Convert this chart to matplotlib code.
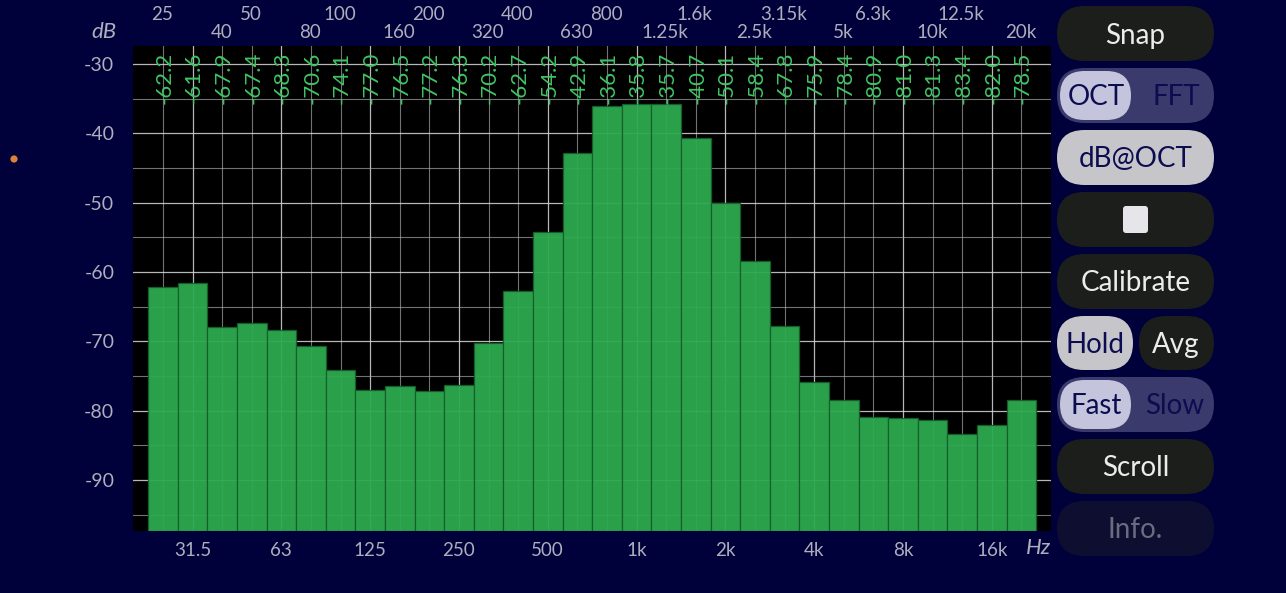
import matplotlib
matplotlib.use("Agg")
import matplotlib.pyplot as plt
from matplotlib.patches import FancyBboxPatch, Circle
from matplotlib.transforms import blended_transform_factory

freq_labels = ["25","31.5","40","50","63","80","100","125","160","200","250","320","400","500","630",
               "800","1k","1.25k","1.6k","2k","2.5k","3.15k","4k","5k","6.3k","8k","10k","12.5k","16k","20k"]
levels = [-62.2,-61.6,-67.9,-67.4,-68.3,-70.6,-74.1,-77.0,-76.5,-77.2,-76.3,-70.2,-62.7,-54.2,-42.9,
          -36.1,-35.8,-35.7,-40.7,-50.1,-58.4,-67.8,-75.9,-78.4,-80.9,-81.0,-81.3,-83.4,-82.0,-78.5]
major_db = [-30,-40,-50,-60,-70,-80,-90]
minor_db = [-35,-45,-55,-65,-75,-85,-95]

plt.rcParams['font.family'] = ['Lato', 'DejaVu Sans']
plt.rcParams['axes.unicode_minus'] = False

BG = "#00003a"
LABEL = "#aeaebd"
W, H = 1286, 593
fig = plt.figure(figsize=(W/100, H/100), dpi=100, facecolor=BG)

L, R, T, B = 133, 1051, 46, 531
ax = fig.add_axes([L/W, 1-B/H, (R-L)/W, (B-T)/H], facecolor="black")
ax.set_xlim(-1.01, 30.0)
ax.set_ylim(-97.35, -27.4)
for s in ax.spines.values():
    s.set_visible(False)

idx = list(range(len(freq_labels)))
bottom_idx = [i for i in idx if i % 3 == 1]
ax.set_xticks(bottom_idx)
ax.set_xticklabels([freq_labels[i] for i in bottom_idx])
ax.set_xticks([i for i in idx if i % 3 != 1], minor=True)
ax.set_yticks(major_db)
ax.set_yticks(minor_db, minor=True)
ax.tick_params(which='both', length=0)
ax.tick_params(axis='x', which='major', colors=LABEL, labelsize=13.5, pad=8)
ax.tick_params(axis='y', which='major', colors=LABEL, labelsize=14, pad=13.5)
ax.set_axisbelow(True)
ax.grid(True, which='major', color="#d8d8d8", lw=0.9, alpha=0.85)
ax.grid(True, which='minor', color="#b0b0b0", lw=0.8, alpha=0.65)

bottom = ax.get_ylim()[0]
ax.bar(idx, [v - bottom for v in levels], bottom=bottom, width=1.0, color="#2eaa50", alpha=0.95,
       edgecolor="#14602a", linewidth=0.9, zorder=2)

trans = blended_transform_factory(ax.transData, fig.transFigure)
for i, (lab, v) in enumerate(zip(freq_labels, levels)):
    ax.text(i + 0.05, 1-104/H, f"{v:.1f}", transform=trans, rotation=90, ha='center', va='bottom',
            color="#3fc463", fontsize=16, zorder=4, clip_on=False)
    ypix = 15 if i % 3 == 0 else 32 if i % 3 == 2 else None
    if ypix is not None:
        ax.text(i - 0.03, 1-ypix/H, lab, transform=trans, ha='center', va='center', color=LABEL,
                fontsize=13.5, clip_on=False)

# overlay in pixel coordinates for interface elements
ov = fig.add_axes([0, 0, 1, 1], facecolor='none')
ov.set_xlim(0, W); ov.set_ylim(H, 0); ov.axis('off')
ov.text(117, 32, "dB", style='italic', color=LABEL, fontsize=16, ha='right', va='center')
ov.text(1051, 548, "Hz", style='italic', color=LABEL, fontsize=16, ha='right', va='center')
ov.add_patch(Circle((14, 159), 3.6, color="#d9823b", lw=0))

def pill(x0, y0, x1, y1, color):
    h = y1 - y0
    r = h / 2
    ov.add_patch(FancyBboxPatch((x0 + r, y0 + r), x1 - x0 - 2*r, 0,
                                boxstyle=f"round,pad={r},rounding_size={r}",
                                fc=color, ec='none', lw=0))

def label(cx, cy, s, color, size=20):
    ov.text(cx, cy + 2, s, color=color, fontsize=size, ha='center', va='center')

DARK, LIGHT = "#1c1e1c", "#c6c6ca"
NAVY = "#0c0c50"
X0, X1 = 1057, 1214
CX = (X0 + X1) / 2
pill(X0, 6, X1, 61, DARK); label(CX, 34, "Snap", "#ececec")
pill(X0, 68, X1, 123, "#3a3a6c"); pill(1060, 71, 1131, 120, "#c4c4dc")
label(1096, 95, "OCT", NAVY); label(1176, 95, "FFT", NAVY)
pill(X0, 130, X1, 185, LIGHT); label(CX, 157, "dB@OCT", NAVY)
pill(X0, 192, X1, 247, DARK)
ov.add_patch(FancyBboxPatch((1126, 209), 19, 21, boxstyle="round,pad=3,rounding_size=3", fc="#e6e6ea", ec='none'))
pill(X0, 254, X1, 309, DARK); label(CX, 281, "Calibrate", "#ececec")
pill(X0, 316, 1133, 370, LIGHT); label(1095, 343, "Hold", NAVY)
pill(1139, 316, X1, 370, DARK); label(1176, 343, "Avg", "#ececec")
pill(X0, 377, X1, 432, "#3a3a6c"); pill(1060, 380, 1131, 429, "#c4c4dc")
label(1096, 404, "Fast", NAVY); label(1175, 404, "Slow", NAVY)
pill(X0, 439, X1, 494, DARK); label(CX, 466, "Scroll", "#ececec")
pill(X0, 501, X1, 556, "#0e0e30"); label(CX, 528, "Info.", "#6a6a80")

fig.savefig("out.png", dpi=100, facecolor=BG)
